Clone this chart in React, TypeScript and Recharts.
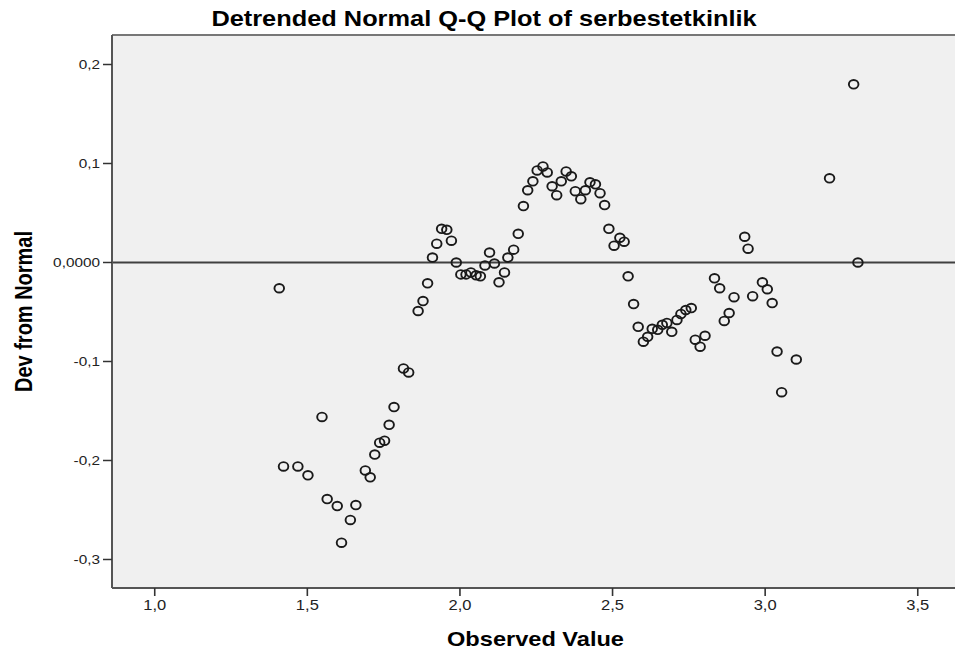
import { ScatterChart, Scatter, XAxis, YAxis, CartesianGrid, ReferenceLine } from 'recharts'

const observedValues = [
  1.408, 1.422, 1.469, 1.502, 1.548, 1.565, 1.598, 1.612, 1.641, 1.659,
  1.690, 1.706, 1.721, 1.737, 1.753, 1.768, 1.784, 1.815, 1.832, 1.863,
  1.879, 1.894, 1.910, 1.924, 1.940, 1.957, 1.972, 1.988, 2.003, 2.020,
  2.036, 2.053, 2.067, 2.082, 2.097, 2.113, 2.128, 2.146, 2.157, 2.176,
  2.191, 2.208, 2.222, 2.239, 2.253, 2.272, 2.286, 2.302, 2.317, 2.332,
  2.348, 2.365, 2.378, 2.396, 2.411, 2.426, 2.444, 2.459, 2.474, 2.488,
  2.505, 2.524, 2.538, 2.551, 2.569, 2.584, 2.601, 2.615, 2.630, 2.648,
  2.663, 2.678, 2.694, 2.711, 2.724, 2.740, 2.758, 2.771, 2.787, 2.803,
  2.834, 2.851, 2.866, 2.882, 2.898, 2.933, 2.944, 2.959, 2.991, 3.007,
  3.023, 3.039, 3.054, 3.102, 3.211, 3.290, 3.304,
]

const devFromNormal = [
  -0.026, -0.206, -0.206, -0.215, -0.156, -0.239, -0.246, -0.283, -0.260, -0.245,
  -0.210, -0.217, -0.194, -0.182, -0.180, -0.164, -0.146, -0.107, -0.111, -0.049,
  -0.039, -0.021, 0.005, 0.019, 0.034, 0.033, 0.022, 0.000, -0.012, -0.012,
  -0.010, -0.013, -0.014, -0.003, 0.010, -0.001, -0.020, -0.010, 0.005, 0.013,
  0.029, 0.057, 0.073, 0.082, 0.093, 0.097, 0.091, 0.077, 0.068, 0.082,
  0.092, 0.087, 0.072, 0.064, 0.073, 0.081, 0.079, 0.070, 0.058, 0.034,
  0.017, 0.025, 0.021, -0.014, -0.042, -0.065, -0.080, -0.075, -0.067, -0.068,
  -0.063, -0.061, -0.070, -0.058, -0.052, -0.048, -0.046, -0.078, -0.085, -0.074,
  -0.016, -0.026, -0.059, -0.051, -0.035, 0.026, 0.014, -0.034, -0.020, -0.027,
  -0.041, -0.090, -0.131, -0.098, 0.085, 0.180, 0.000,
]

const xTicks = [1.0, 1.5, 2.0, 2.5, 3.0, 3.5]
const yTicks = [-0.3, -0.2, -0.1, 0, 0.1, 0.2]

const X_DOMAIN: [number, number] = [0.86, 3.622]
const Y_DOMAIN: [number, number] = [-0.3288, 0.2298]

const data = observedValues.map((x, i) => ({ x, y: devFromNormal[i] }))

const FONT = 'Liberation Sans, Arial, sans-serif'
const SX = 1.18 // the source picture is stretched sideways a bit

const fmt = (v: number) => (v === 0 ? '0,0000' : v.toFixed(1).replace('.', ','))

const YTick = ({ x, y, payload }: any) => (
  <g transform={`translate(${x - 1},${y}) scale(${SX},1)`}>
    <text x={0} y={0} dy="0.35em" textAnchor="end" fontSize={13} fill="#222" fontFamily={FONT}>
      {fmt(payload.value)}
    </text>
  </g>
)

const XTick = ({ x, y, payload }: any) => (
  <g transform={`translate(${x},${y + 12}) scale(${SX},1)`}>
    <text x={0} y={0} textAnchor="middle" fontSize={14} fill="#222" fontFamily={FONT}>
      {payload.value.toFixed(1).replace('.', ',')}
    </text>
  </g>
)

const XTitle = ({ viewBox }: any) => (
  <g transform={`translate(${viewBox.x + viewBox.width / 2 + 2},646) scale(${SX},1)`}>
    <text x={0} y={0} textAnchor="middle" fontSize={20} fontWeight="bold" fill="#000" fontFamily={FONT}>
      Observed Value
    </text>
  </g>
)

const YTitle = ({ viewBox }: any) => (
  <g transform={`translate(32,${viewBox.y + viewBox.height / 2}) scale(${SX},1) rotate(-90)`}>
    <text x={0} y={0} textAnchor="middle" fontSize={20} fontWeight="bold" fill="#000" fontFamily={FONT}>
      Dev from Normal
    </text>
  </g>
)

const Ring = ({ cx, cy }: any) => (
  <ellipse cx={cx} cy={cy} rx={4.8} ry={4.3} fill="none" stroke="#1a1a1a" strokeWidth={1.9} />
)

export default function App() {
  return (
    <div style={{ position: 'absolute', left: 0, top: 0, width: 955, height: 652, background: '#fff' }}>
      <svg width={955} height={35} style={{ position: 'absolute', left: 0, top: 0 }}>
        <g transform={`translate(484,26) scale(${SX},1)`}>
          <text x={0} y={0} textAnchor="middle" fontSize={21.5} fontWeight="bold" fill="#000" fontFamily={FONT}>
            Detrended Normal Q-Q Plot of serbestetkinlik
          </text>
        </g>
      </svg>
      <ScatterChart width={955} height={652} margin={{ top: 35, right: 0, bottom: 0, left: 0 }}>
        <CartesianGrid fill="#f0f0f0" horizontal={false} vertical={false} />
        <XAxis
          type="number"
          dataKey="x"
          domain={X_DOMAIN}
          ticks={xTicks}
          allowDataOverflow
          height={64}
          tickSize={8}
          tickMargin={2}
          tickLine={{ stroke: '#333', strokeWidth: 1.6 }}
          axisLine={{ stroke: '#555', strokeWidth: 2 }}
          tick={<XTick />}
          label={<XTitle />}
        />
        <YAxis
          type="number"
          dataKey="y"
          domain={Y_DOMAIN}
          ticks={yTicks}
          allowDataOverflow
          width={112}
          tickSize={9}
          tickMargin={2}
          tickLine={{ stroke: '#333', strokeWidth: 1.5 }}
          axisLine={{ stroke: '#555', strokeWidth: 2 }}
          tick={<YTick />}
          label={<YTitle />}
        />
        <ReferenceLine y={Y_DOMAIN[1]} stroke="#777" strokeWidth={2} />
        <ReferenceLine y={0} stroke="#404040" strokeWidth={2} />
        <Scatter data={data} shape={<Ring />} isAnimationActive={false} />
      </ScatterChart>
    </div>
  )
}
